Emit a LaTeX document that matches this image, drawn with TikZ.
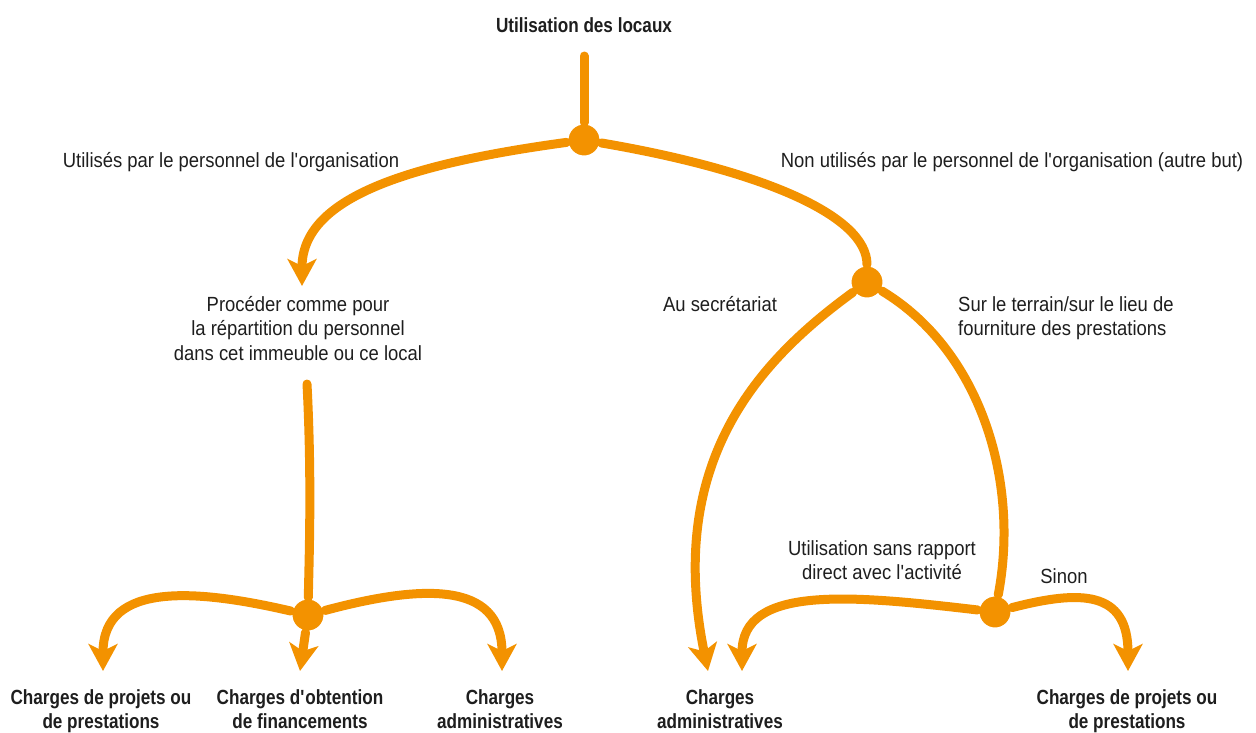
\documentclass[tikz,border=0pt]{standalone}
\usepackage{fontspec}
\setmainfont{Liberation Sans}[FakeStretch=0.9, BoldFeatures={FakeStretch=0.835}]
\usetikzlibrary{arrows.meta}
\definecolor{flow}{HTML}{F39200}
\definecolor{ink}{HTML}{1E1E1E}
\tikzset{
  flowline/.style={draw=flow, line width=9pt, line cap=round},
  flowarrow/.style={flowline, -{Stealth[length=27pt, width=29pt, inset=7pt]}},
  junction/.style={circle, fill=flow, draw=white, line width=2pt, minimum size=33pt, inner sep=0pt},
  lbl/.style={text=ink, font=\fontsize{20.5}{24.5}\selectfont, align=center, inner sep=0pt, anchor=base},
  lbll/.style={lbl, align=left},
  outcome/.style={lbl, font=\bfseries\fontsize{20.5}{24.5}\selectfont},
}
\begin{document}
\begin{tikzpicture}[x=1pt, y=-1pt]
\useasboundingbox (0,0) rectangle (1256,732);

% labels (base anchor sits on the last line of each label)
\node[outcome] (title) at (584,32) {Utilisation des locaux};
\node[lbl] (used) at (231,167) {Utilisés par le personnel de l\textquotesingle organisation};
\node[lbl] (notused) at (1012,167) {Non utilisés par le personnel de l\textquotesingle organisation (autre but)};
\node[lbl] (proc) at (298,360) {Procéder comme pour\\la répartition du personnel\\dans cet immeuble ou ce local};
\node[lbl] (secr) at (720,311) {Au secrétariat};
\node[lbll, anchor=base west] (field) at (958,335.5) {Sur le terrain/sur le lieu de\\fourniture des prestations};
\node[lbl] (norel) at (882,579.5) {Utilisation sans rapport\\direct avec l\textquotesingle activité};
\node[lbl] (else) at (1064,583) {Sinon};

\node[outcome] (o1) at (101,728.5) {Charges de projets ou\\de prestations};
\node[outcome] (o2) at (300,728.5) {Charges d\textquotesingle obtention\\de financements};
\node[outcome] (o3) at (500,728.5) {Charges\\administratives};
\node[outcome] (o4) at (720,728.5) {Charges\\administratives};
\node[outcome] (o5) at (1127,728.5) {Charges de projets ou\\de prestations};

% junctions
\node[junction] (c1) at (584,140) {};
\node[junction] (c2) at (867,282) {};
\node[junction] (c3) at (308,615) {};
\node[junction] (c4) at (995,612) {};

% free ends
\coordinate (top) at (584,56);
\coordinate (procend) at (307,384);
\coordinate (t1) at (302,286);
\coordinate (t2) at (708,671);
\coordinate (t3) at (103,671);
\coordinate (t4) at (300,671);
\coordinate (t5) at (502,671);
\coordinate (t6) at (742,671);
\coordinate (t7) at (1128,671);

% connectors
\draw[flowline] (top) -- (c1);
\draw[flowarrow] (c1) .. controls (400,165) and (302,200) .. (t1);
\draw[flowline] (c1) .. controls (760,170) and (867,215) .. (c2);
\draw[flowarrow] (c2) .. controls (760,360) and (665,460) .. (t2);
\draw[flowline] (c2) .. controls (980,350) and (1020,480) .. (c4);
\draw[flowline] (procend) .. controls (312,480) and (309,560) .. (c3);
\draw[flowarrow] (c3) .. controls (200,590) and (103,580) .. (t3);
\draw[flowarrow] (c3) -- (t4);
\draw[flowarrow] (c3) .. controls (420,585) and (502,580) .. (t5);
\draw[flowarrow] (c4) .. controls (850,595) and (742,585) .. (t6);
\draw[flowarrow] (c4) .. controls (1080,590) and (1128,590) .. (t7);
\end{tikzpicture}
\end{document}
